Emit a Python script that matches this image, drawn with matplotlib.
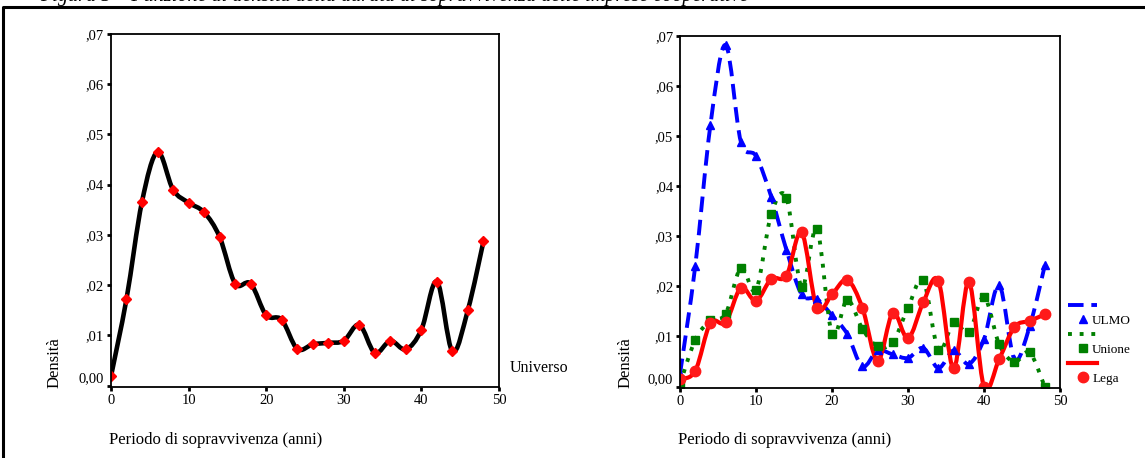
import numpy as np
import matplotlib
matplotlib.use('Agg')
import matplotlib.pyplot as plt
from matplotlib.path import Path
from matplotlib.patches import PathPatch
from matplotlib.lines import Line2D

plt.rcParams['font.family'] = ['Liberation Serif', 'DejaVu Serif']

# anni (asse x), ogni 2 anni
anni = list(range(0, 50, 2))

universo = [0.0018, 0.0172, 0.0366, 0.0465, 0.0390, 0.0364, 0.0345, 0.0296, 0.0203, 0.0203,
            0.0140, 0.0131, 0.0073, 0.0082, 0.0085, 0.0089, 0.0121, 0.0065, 0.0089, 0.0072,
            0.0111, 0.0207, 0.0068, 0.0151, 0.0287]

ulmo = [0.0025, 0.0240, 0.0522, 0.0682, 0.0489, 0.0460, 0.0379, 0.0273, 0.0184, 0.0175,
        0.0142, 0.0105, 0.0040, 0.0072, 0.0064, 0.0057, 0.0077, 0.0037, 0.0072, 0.0045,
        0.0095, 0.0202, 0.0055, 0.0120, 0.0242]

unione = [0.0005, 0.0093, 0.0132, 0.0145, 0.0237, 0.0193, 0.0344, 0.0377, 0.0199, 0.0315,
          0.0105, 0.0173, 0.0115, 0.0080, 0.0089, 0.0157, 0.0212, 0.0073, 0.0128, 0.0108,
          0.0179, 0.0084, 0.0049, 0.0068, -0.0001]

lega = [0.0015, 0.0031, 0.0127, 0.0128, 0.0197, 0.0171, 0.0215, 0.0221, 0.0308, 0.0157,
        0.0184, 0.0213, 0.0157, 0.0051, 0.0147, 0.0096, 0.0168, 0.0211, 0.0036, 0.0209,
        -0.0001, 0.0055, 0.0119, 0.0131, 0.0144]

ytick_vals = [0, 0.01, 0.02, 0.03, 0.04, 0.05, 0.06, 0.07]
ytick_lab = ['0,00', ',01', ',02', ',03', ',04', ',05', ',06', ',07']
xtick_vals = [0, 10, 20, 30, 40, 50]


def smooth_path(x, y):
    # catmull-rom -> bezier, the curve itself is drawn by matplotlib
    p = np.column_stack([x, y]).astype(float)
    p = np.vstack([p[0], p, p[-1]])
    verts = [p[1]]
    codes = [Path.MOVETO]
    for i in range(1, len(p) - 2):
        c1 = p[i] + (p[i + 1] - p[i - 1]) / 6
        c2 = p[i + 1] - (p[i + 2] - p[i]) / 6
        verts += [c1, c2, p[i + 1]]
        codes += [Path.CURVE4] * 3
    return Path(verts, codes)


def curve(ax, x, y, color, ls, lw, marker, ms, mcolor):
    patch = PathPatch(smooth_path(x, y), fill=False, edgecolor=color, lw=lw,
                      linestyle=ls, capstyle='butt', joinstyle='round')
    ax.add_patch(patch)
    ax.plot(x, y, ls='none', marker=marker, ms=ms, color=mcolor, mec=mcolor)


def setup(ax):
    ax.set_xlim(0, 50)
    ax.set_ylim(-0.0003, 0.07)
    ax.set_yticks(ytick_vals)
    ax.set_yticklabels(ytick_lab)
    ax.set_xticks(xtick_vals)
    ax.tick_params(direction='out', length=3, width=2, labelsize=10.5, pad=2)
    ax.get_yticklabels()[0].set_va('bottom')
    for s in ax.spines.values():
        s.set_linewidth(1.3)


fig = plt.figure(figsize=(11.45, 4.58), dpi=100)
ax1 = fig.add_axes([0.0969, 0.155, 0.3389, 0.7708])
ax2 = fig.add_axes([0.5939, 0.1528, 0.3319, 0.7686])

setup(ax1)
curve(ax1, anni, universo, 'black', '-', 3.3, 'D', 5, 'red')

setup(ax2)
curve(ax2, anni, ulmo, '#0000ff', (0, (4, 2)), 2.8, '^', 6, '#0000ff')
curve(ax2, anni, unione, '#008000', (0, (1, 2)), 2.8, 's', 6, '#008000')
curve(ax2, anni, lega, '#ff0000', '-', 3, 'o', 7.5, '#ff1a1a')

# legenda: linea e simbolo su righe separate
handles = [
    Line2D([], [], color='#0000ff', lw=2.8, ls=(0, (4, 2))),
    Line2D([], [], ls='none', marker='^', ms=6, color='#0000ff'),
    Line2D([], [], color='#008000', lw=2.8, ls=(0, (1, 2))),
    Line2D([], [], ls='none', marker='s', ms=6, color='#008000'),
    Line2D([], [], color='#ff0000', lw=3),
    Line2D([], [], ls='none', marker='o', ms=7.5, color='#ff1a1a'),
]
labels = ['', 'ULMO', '', 'Unione', '', 'Lega']
fig.legend(handles, labels, loc='upper left', bbox_to_anchor=(0.9285, 0.356),
           frameon=False, fontsize=9.5, handlelength=2.2, handletextpad=-0.4,
           labelspacing=0.17, borderaxespad=0)

# testi
fig.text(0.048, 1 - 388 / 458, 'Densità', rotation=90, va='bottom', ha='center', fontsize=12)
fig.text(0.546, 1 - 388 / 458, 'Densità', rotation=90, va='bottom', ha='center', fontsize=12)
fig.text(109 / 1145, 1 - 440 / 458, 'Periodo di sopravvivenza (anni)', va='center', fontsize=12)
fig.text(678 / 1145, 1 - 440 / 458, 'Periodo di sopravvivenza (anni)', va='center', fontsize=12)
fig.text(510 / 1145, 1 - 368 / 458, 'Universo', va='center', fontsize=11.5)

# titolo tagliato in alto
fig.text(0.035, 1 - 1 / 458, 'Figura 5 \u2013 Funzione di densità della durata di sopravvivenza delle imprese cooperative',
         va='baseline', fontsize=14.5, style='italic')

# cornice
fig.add_artist(Line2D([3 / 1145, 3 / 1145, 1.0], [0.0, 1 - 7 / 458, 1 - 7 / 458],
                      transform=fig.transFigure, color='black', lw=2.2))

fig.savefig('out.png', dpi=100)
